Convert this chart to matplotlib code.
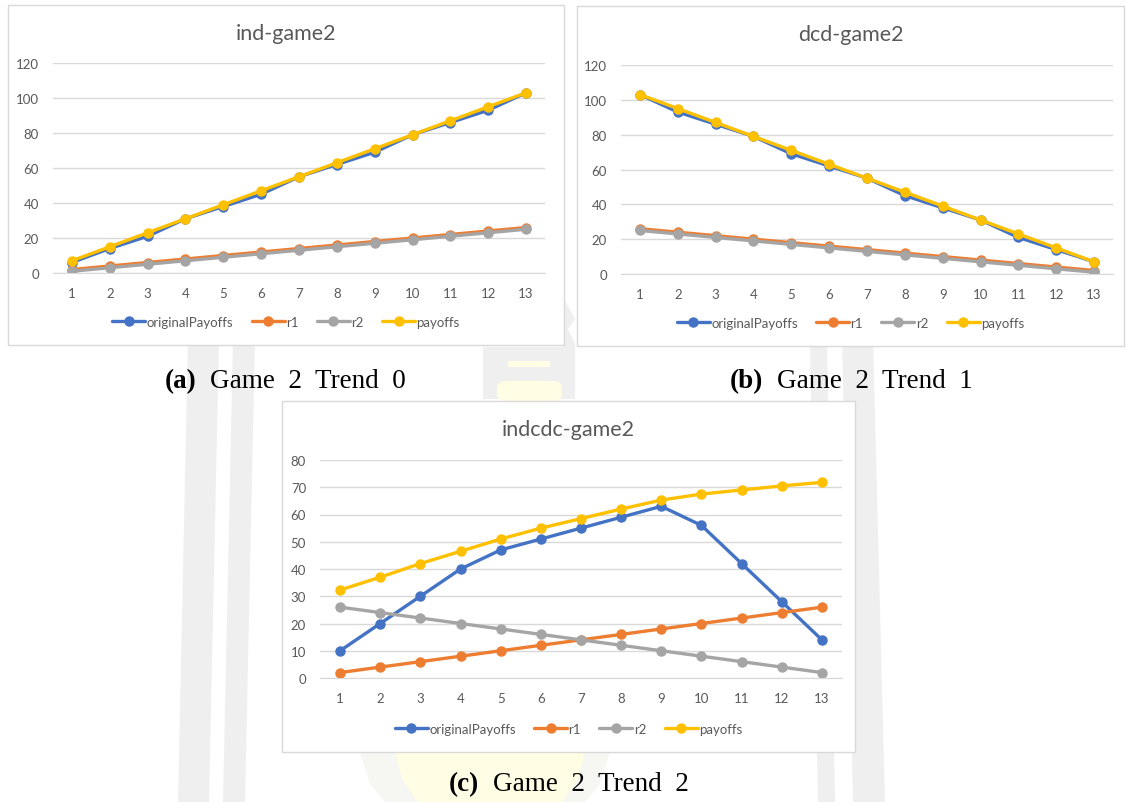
import numpy as np
import matplotlib.pyplot as plt
from matplotlib.patches import Rectangle, Polygon, FancyBboxPatch

W, H = 1126, 803

rounds = list(range(1, 14))
series_names = ['originalPayoffs', 'r1', 'r2', 'payoffs']

# ind-game2
ind_original = [6, 14, 21, 31, 38, 45, 55, 62, 69, 79, 86, 93, 103]
ind_r1 = [2, 4, 6, 8, 10, 12, 14, 16, 18, 20, 22, 24, 26]
ind_r2 = [1, 3, 5, 7, 9, 11, 13, 15, 17, 19, 21, 23, 25]
ind_payoffs = [7, 15, 23, 31, 39, 47, 55, 63, 71, 79, 87, 95, 103]

# dcd-game2
dcd_original = [103, 93, 86, 79, 69, 62, 55, 45, 38, 31, 21, 14, 7]
dcd_r1 = [26, 24, 22, 20, 18, 16, 14, 12, 10, 8, 6, 4, 2]
dcd_r2 = [25, 23, 21, 19, 17, 15, 13, 11, 9, 7, 5, 3, 1]
dcd_payoffs = [103, 95, 87, 79, 71, 63, 55, 47, 39, 31, 23, 15, 7]

# indcdc-game2
indcdc_original = [10, 20, 30, 40, 47, 51, 55, 59, 63, 56, 42, 28, 14]
indcdc_r1 = [2, 4, 6, 8, 10, 12, 14, 16, 18, 20, 22, 24, 26]
indcdc_r2 = [26, 24, 22, 20, 18, 16, 14, 12, 10, 8, 6, 4, 2]
indcdc_payoffs = [32.3, 37, 42, 46.5, 51, 55, 58.5, 62, 65.3, 67.5, 69, 70.5, 71.8]

colors = ['#4472C4', '#ED7D31', '#A5A5A5', '#FFC000']
text_gray = '#595959'
grid_gray = '#D9D9D9'
mark_gray = '#EFEFEF'
mark_yellow = '#FFFDE3'
ui_font = ['Lato', 'DejaVu Sans']
cap_font = ['Liberation Serif', 'DejaVu Serif']


def fx(px):
    return px / W


def fy(py):
    return 1 - py / H


def pts(seq):
    return [(fx(x), fy(y)) for x, y in seq]


def add_shape(fig, patch):
    patch.set_transform(fig.transFigure)
    patch.set_zorder(-10)
    fig.patches.append(patch)


def background_mark(fig):
    # faint page emblem behind the figures
    for quad in [[(188, 340), (219, 340), (209, 803), (178, 803)],
                 [(233, 340), (255, 340), (245, 803), (223, 803)],
                 [(810, 340), (827, 340), (835, 803), (818, 803)],
                 [(842, 340), (873, 340), (885, 803), (853, 803)]]:
        add_shape(fig, Polygon(pts(quad), closed=True, facecolor=mark_gray,
                               edgecolor='none'))
    lamp = [(564, 300), (575, 320), (568, 330), (575, 345), (575, 400),
            (483, 400), (483, 348), (564, 348)]
    add_shape(fig, Polygon(pts(lamp), closed=True, facecolor=mark_gray,
                           edgecolor='none'))
    add_shape(fig, Rectangle((fx(508), fy(368)), fx(42), 6 / H,
                             facecolor=mark_yellow, edgecolor='none'))
    add_shape(fig, FancyBboxPatch((fx(497), fy(402)), fx(65), 20 / H,
                                  boxstyle='round,pad=0,rounding_size=0.008',
                                  facecolor=mark_yellow, edgecolor='none'))
    bowl = [(360, 753), (610, 753), (600, 785), (585, 803), (385, 803),
            (370, 785)]
    add_shape(fig, Polygon(pts(bowl), closed=True, facecolor='#F6F6F3',
                           edgecolor='none'))
    bowl_in = [(395, 753), (585, 753), (578, 780), (562, 803), (418, 803),
               (402, 780)]
    add_shape(fig, Polygon(pts(bowl_in), closed=True, facecolor=mark_yellow,
                           edgecolor='none'))


def draw_panel(fig, box, plot, title, data, ymax, ystep):
    # box / plot given as (left, top, right, bottom) in pixels
    bl, bt, br, bb = box
    fig.patches.append(Rectangle((fx(bl), fy(bb)), fx(br - bl), (bb - bt) / H,
                                 transform=fig.transFigure, facecolor='white',
                                 edgecolor=grid_gray, linewidth=1.0, zorder=-5))
    pl, pt, pr, pb = plot
    ax = fig.add_axes([fx(pl), fy(pb), fx(pr - pl), (pb - pt) / H], zorder=2)
    ax.set_facecolor('none')
    handles = []
    for vals, c, name in zip(data, colors, series_names):
        h, = ax.plot(rounds, vals, color=c, linewidth=2.4, marker='o',
                     markersize=6.5, label=name, solid_capstyle='round')
        handles.append(h)
    ax.set_xlim(0.5, 13.5)
    ax.set_ylim(0, ymax)
    ax.set_xticks(rounds)
    ax.set_yticks(np.arange(0, ymax + 1, ystep))
    ax.grid(axis='y', color=grid_gray, linewidth=1.0)
    ax.set_axisbelow(True)
    for s in ['top', 'right', 'left']:
        ax.spines[s].set_visible(False)
    ax.spines['bottom'].set_color(grid_gray)
    ax.tick_params(length=0, labelsize=9.5, labelcolor=text_gray)
    ax.tick_params(axis='y', pad=10)
    ax.tick_params(axis='x', pad=10)
    for lab in ax.get_xticklabels() + ax.get_yticklabels():
        lab.set_family(ui_font)
    cx = (bl + br) / 2
    fig.text(fx(cx), fy(bt + 28), title, ha='center', va='center',
             fontsize=15.5, color=text_gray, family=ui_font)
    leg = ax.legend(handles=handles, loc='center', ncol=4, frameon=False,
                    bbox_to_anchor=(fx(cx), fy(bb - 23)),
                    bbox_transform=fig.transFigure, handlelength=2.5,
                    handletextpad=0.1, columnspacing=1.4,
                    prop={'family': ui_font, 'size': 9.5})
    for t in leg.get_texts():
        t.set_color(text_gray)
    return ax


def caption(fig, cx, cy, tag, text):
    fig.text(fx(cx), fy(cy), tag, ha='right', va='baseline', fontsize=19.5,
             fontweight='bold', family=cap_font, color='black')
    fig.text(fx(cx + 14), fy(cy), text, ha='left', va='baseline',
             fontsize=19.5, family=cap_font, color='black')


fig = plt.figure(figsize=(W / 100, H / 100), dpi=100)
background_mark(fig)

draw_panel(fig, (8, 6, 564, 346), (53, 64, 545, 274), 'ind-game2',
           [ind_original, ind_r1, ind_r2, ind_payoffs], 120, 20)
draw_panel(fig, (577, 7, 1124, 347), (621, 66, 1113, 275), 'dcd-game2',
           [dcd_original, dcd_r1, dcd_r2, dcd_payoffs], 120, 20)
draw_panel(fig, (282, 402, 855, 753), (320, 461, 842, 679), 'indcdc-game2',
           [indcdc_original, indcdc_r1, indcdc_r2, indcdc_payoffs], 80, 10)

caption(fig, 196, 388, '(a)', 'Game  2  Trend  0')
caption(fig, 763, 388, '(b)', 'Game  2  Trend  1')
caption(fig, 479, 791, '(c)', 'Game  2  Trend  2')

fig.savefig('out.png', dpi=100)
